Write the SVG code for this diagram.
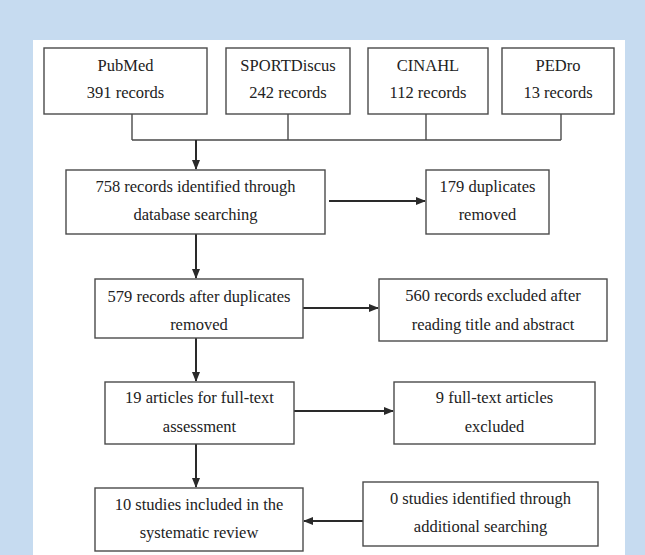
<svg xmlns="http://www.w3.org/2000/svg" width="645" height="555" viewBox="0 0 645 555">
<style>
.box{fill:#fff;stroke:#4a4a4a;stroke-width:1.4}
.t{font-family:'Liberation Serif','Times New Roman',Times,'DejaVu Serif',serif;font-size:16.5px;fill:#222;text-anchor:middle}
.ln{fill:none;stroke:#4a4a4a;stroke-width:1.4}
.ar{fill:none;stroke:#2a2a2a;stroke-width:2}
</style>
<defs>
<marker id="ah" markerWidth="10" markerHeight="8" refX="9" refY="4" orient="auto" markerUnits="userSpaceOnUse">
<path d="M0,0 L10,4 L0,8 Z" fill="#2a2a2a"/>
</marker>
</defs>
<rect x="0" y="0" width="645" height="555" fill="#c6dbf0"/>
<rect x="33" y="40" width="592" height="515" fill="#fff"/>
<g id="connectors">
<path class="ln" d="M132,114 V140 M288,114 V140 M426,114 V140 M561,114 V140 M132,140 H561"/>
<path class="ar" d="M196,140 V169" marker-end="url(#ah)"/>
<path class="ar" d="M329,201 H425" marker-end="url(#ah)"/>
<path class="ar" d="M196,234 V278" marker-end="url(#ah)"/>
<path class="ar" d="M303,308 H378" marker-end="url(#ah)"/>
<path class="ar" d="M196,338 V381" marker-end="url(#ah)"/>
<path class="ar" d="M294,411 H393" marker-end="url(#ah)"/>
<path class="ar" d="M196,444 V487" marker-end="url(#ah)"/>
<path class="ar" d="M363,521 H304" marker-end="url(#ah)"/>
</g>
<g font-family="'Liberation Serif', 'Times New Roman', Times, serif">
<g id="pubmed">
<rect class="box" x="44" y="48" width="163" height="66"/>
<text class="t" x="125.5" y="71">PubMed</text>
<text class="t" x="125.5" y="98">391 records</text>
</g>
<g id="sportdiscus">
<rect class="box" x="226" y="48" width="124" height="66"/>
<text class="t" x="288" y="71">SPORTDiscus</text>
<text class="t" x="288" y="98">242 records</text>
</g>
<g id="cinahl">
<rect class="box" x="368" y="48" width="120" height="66"/>
<text class="t" x="428" y="71">CINAHL</text>
<text class="t" x="428" y="98">112 records</text>
</g>
<g id="pedro">
<rect class="box" x="502" y="48" width="112" height="66"/>
<text class="t" x="558" y="71">PEDro</text>
<text class="t" x="558" y="98">13 records</text>
</g>
<g id="identified">
<rect class="box" x="66" y="170" width="259" height="64"/>
<text class="t" x="195.5" y="192">758 records identified through</text>
<text class="t" x="195.5" y="220">database searching</text>
</g>
<g id="duplicates">
<rect class="box" x="426" y="170" width="123" height="64"/>
<text class="t" x="487.5" y="192">179 duplicates</text>
<text class="t" x="487.5" y="220">removed</text>
</g>
<g id="after-duplicates">
<rect class="box" x="95" y="279" width="208" height="59"/>
<text class="t" x="199" y="302">579 records after duplicates</text>
<text class="t" x="199" y="330">removed</text>
</g>
<g id="excluded-title">
<rect class="box" x="379" y="279" width="228" height="62"/>
<text class="t" x="493" y="301">560 records excluded after</text>
<text class="t" x="493" y="330">reading title and abstract</text>
</g>
<g id="fulltext">
<rect class="box" x="105" y="382" width="189" height="62"/>
<text class="t" x="199.5" y="403">19 articles for full-text</text>
<text class="t" x="199.5" y="432">assessment</text>
</g>
<g id="fulltext-excluded">
<rect class="box" x="394" y="382" width="201" height="62"/>
<text class="t" x="494.5" y="403">9 full-text articles</text>
<text class="t" x="494.5" y="432">excluded</text>
</g>
<g id="included">
<rect class="box" x="95" y="488" width="208" height="63"/>
<text class="t" x="199" y="510">10 studies included in the</text>
<text class="t" x="199" y="538">systematic review</text>
</g>
<g id="additional">
<rect class="box" x="363" y="482" width="235" height="64"/>
<text class="t" x="480.5" y="504">0 studies identified through</text>
<text class="t" x="480.5" y="532">additional searching</text>
</g>
</g>
</svg>
